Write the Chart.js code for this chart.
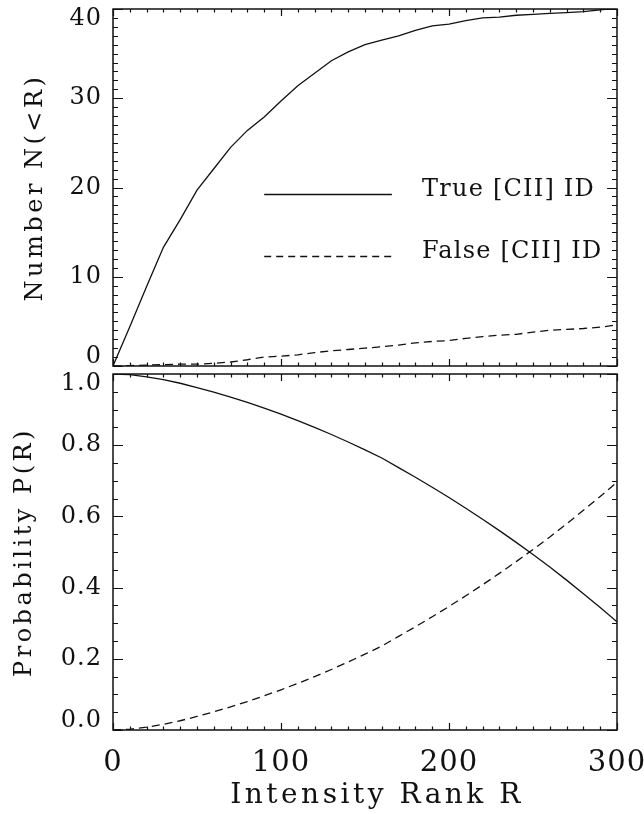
<!DOCTYPE html>
<html>
<head>
<meta charset="utf-8">
<script src="https://cdn.jsdelivr.net/npm/chart.js@4"></script>
<style>
  html, body { margin: 0; padding: 0; background: #fff; }
  #wrap { position: relative; width: 644px; height: 814px; }
  canvas { position: absolute; left: 0; }
  #cTop { top: 0; }
  #cBot { top: 368px; }
</style>
</head>
<body>
<div id="wrap">
  <canvas id="cTop" width="644" height="372"></canvas>
  <canvas id="cBot" width="644" height="446"></canvas>
</div>
<script>
'use strict';

// intensity rank R, sampled every 10
const RANK = [0, 10, 20, 30, 40, 50, 60, 70, 80, 90, 100, 110, 120, 130, 140, 150,
  160, 170, 180, 190, 200, 210, 220, 230, 240, 250, 260, 270, 280, 290, 300];

// top panel: cumulative number N(<R)
const N_TRUE = [0, 4.4, 8.9, 13.3, 16.4, 19.7, 22.1, 24.5, 26.4, 27.9, 29.7, 31.4, 32.8, 34.2, 35.2, 36.0,
  36.5, 37.0, 37.6, 38.1, 38.3, 38.7, 39.0, 39.1, 39.3, 39.4, 39.5, 39.6, 39.7, 39.9, 40.1];
const N_FALSE = [0, 0.05, 0.1, 0.15, 0.2, 0.2, 0.3, 0.45, 0.7, 1.0, 1.1, 1.25, 1.5, 1.7, 1.85, 2.0,
  2.15, 2.35, 2.6, 2.75, 2.85, 3.1, 3.3, 3.45, 3.55, 3.8, 4.0, 4.1, 4.2, 4.35, 4.6];

// bottom panel: probability P(R)
const P_TRUE = [1.0, 0.998, 0.992, 0.984, 0.974, 0.962, 0.949, 0.935, 0.920, 0.904, 0.887, 0.869, 0.850, 0.830, 0.809, 0.787,
  0.764, 0.737, 0.710, 0.682, 0.653, 0.623, 0.592, 0.560, 0.527, 0.493, 0.458, 0.421, 0.383, 0.344, 0.304];
const P_FALSE = [0, 0.002, 0.008, 0.016, 0.026, 0.038, 0.051, 0.065, 0.080, 0.096, 0.113, 0.131, 0.150, 0.170, 0.191, 0.213,
  0.236, 0.263, 0.290, 0.318, 0.347, 0.377, 0.408, 0.440, 0.473, 0.507, 0.542, 0.579, 0.617, 0.656, 0.696];

const LEGEND_LABELS = ['True [CII] ID', 'False [CII] ID'];

const FONT = 'DejaVu Serif';
const INK = '#111';
const DASH = [8, 5];

function pts(ys) {
  return RANK.map((r, i) => ({ x: r, y: ys[i] }));
}

// end labels sit a bit inward, like the original
function endShift(fmt) {
  return function (value, index, ticks) {
    const s = fmt(value);
    if (index === 0) return [s, ''];
    if (index === ticks.length - 1) return ['', s];
    return s;
  };
}

// wide-set lettering: titles are drawn before the datasets, tick labels after (ticks.z = 1).
// titleShift nudges the title layer sideways (the x title sits right of centre in the original)
const spacingPlugin = {
  id: 'spacing',
  beforeDraw(chart, args, o) {
    const ctx = chart.ctx;
    ctx.save();
    ctx.translate(o.titleShift || 0, 0);
    ctx.letterSpacing = '3.5px';
  },
  beforeDatasetsDraw(chart) {
    chart.ctx.restore();
  },
  afterDatasetsDraw(chart) {
    chart.ctx.letterSpacing = '1px';
  }
};

// frame plus inward major/minor ticks on all four sides
const framePlugin = {
  id: 'frame',
  afterDraw(chart, args, o) {
    const { ctx, chartArea: a, scales: { x, y } } = chart;
    ctx.save();
    ctx.letterSpacing = '0px';
    ctx.strokeStyle = INK;
    ctx.lineWidth = 1.5;
    ctx.strokeRect(a.left, a.top, a.right - a.left, a.bottom - a.top);
    ctx.lineWidth = 1.2;
    ctx.beginPath();
    const xMaj = 7, yMaj = 10;
    for (let v = x.min; v <= x.max + 1e-9; v += o.xMinor) {
      const px = Math.round(x.getPixelForValue(v)) + 0.5;
      const major = Math.abs(v / o.xMajor - Math.round(v / o.xMajor)) < 1e-6;
      const len = major ? xMaj : xMaj / 2;
      ctx.moveTo(px, a.bottom); ctx.lineTo(px, a.bottom - len);
      ctx.moveTo(px, a.top); ctx.lineTo(px, a.top + len);
    }
    for (let v = y.min; v <= y.max + 1e-9; v += o.yMinor) {
      const py = Math.round(y.getPixelForValue(v)) + 0.5;
      const major = Math.abs(v / o.yMajor - Math.round(v / o.yMajor)) < 1e-6;
      const len = major ? yMaj : yMaj / 2;
      ctx.moveTo(a.left, py); ctx.lineTo(a.left + len, py);
      ctx.moveTo(a.right, py); ctx.lineTo(a.right - len, py);
    }
    ctx.stroke();

    if (o.legend) {
      const L = o.legend;
      ctx.font = '24px "' + FONT + '"';
      ctx.letterSpacing = '1.2px';
      ctx.fillStyle = INK;
      ctx.textBaseline = 'alphabetic';
      ctx.textAlign = 'left';
      LEGEND_LABELS.forEach((lab, i) => {
        const py = Math.round(y.getPixelForValue(L.y[i])) + 0.5;
        ctx.beginPath();
        ctx.lineWidth = 1.3;
        ctx.setLineDash(i === 0 ? [] : [7, 5]);
        ctx.moveTo(x.getPixelForValue(L.x0), py);
        ctx.lineTo(x.getPixelForValue(L.x1), py);
        ctx.stroke();
        ctx.setLineDash([]);
        ctx.fillText(lab, x.getPixelForValue(L.xt), py + 1);
      });
    }
    ctx.restore();
    ctx.letterSpacing = '0px';
  }
};

function noPad(s) {
  s.paddingTop = 0; s.paddingBottom = 0; s.paddingLeft = 0; s.paddingRight = 0;
}

function yAxis(min, max, step, title, titlePad, fmt) {
  return {
    type: 'linear', position: 'left', min, max,
    grid: { display: false, drawTicks: false },
    border: { display: false },
    ticks: {
      stepSize: step, padding: 11, color: INK, z: 1,
      font: { family: FONT, size: 24, lineHeight: 0.8 },
      callback: endShift(fmt)
    },
    title: {
      display: true, text: title, color: INK,
      font: { family: FONT, size: 24, lineHeight: 1.2 },
      padding: { top: titlePad, bottom: 0 }
    },
    afterFit(s) { s.width = 113; noPad(s); }
  };
}

function lineSet(ys, dashed) {
  return {
    data: pts(ys),
    borderColor: INK,
    borderWidth: 1.3,
    borderDash: dashed ? DASH : [],
    pointRadius: 0,
    tension: 0,
    fill: false
  };
}

const common = {
  responsive: false,
  animation: false,
  events: [],
  plugins: { legend: { display: false }, tooltip: { enabled: false } }
};

new Chart(document.getElementById('cTop'), {
  type: 'line',
  data: { datasets: [lineSet(N_TRUE, false), lineSet(N_FALSE, true)] },
  options: Object.assign({}, common, {
    layout: { padding: { left: 0, right: 27, top: 9, bottom: 6 } },
    scales: {
      x: { type: 'linear', min: 0, max: 300, display: false },
      y: yAxis(0, 40, 10, 'Number N(<R)', 21, (v) => String(v))
    },
    plugins: Object.assign({}, common.plugins, {
      spacing: { titleShift: 0 },
      frame: { xMajor: 100, xMinor: 10, yMajor: 10, yMinor: 1,
        legend: { x0: 90, x1: 166, xt: 184, y: [19.3, 12.3] } }
    })
  }),
  plugins: [spacingPlugin, framePlugin]
});

new Chart(document.getElementById('cBot'), {
  type: 'line',
  data: { datasets: [lineSet(P_TRUE, false), lineSet(P_FALSE, true)] },
  options: Object.assign({}, common, {
    layout: { padding: { left: 0, right: 27, top: 6, bottom: 0 } },
    scales: {
      x: {
        type: 'linear', position: 'bottom', min: 0, max: 300,
        grid: { display: false, drawTicks: false },
        border: { display: false },
        ticks: { stepSize: 100, padding: 16, color: INK, maxRotation: 0, z: 1, autoSkip: false,
          font: { family: FONT, size: 29, lineHeight: 1.2 } },
        title: { display: true, text: 'Intensity Rank R', color: INK,
          font: { family: FONT, size: 28, lineHeight: 1.2 },
          padding: { top: 0, bottom: 1 } },
        afterFit(s) { s.height = 84; noPad(s); }
      },
      y: yAxis(0, 1, 0.2, 'Probability P(R)', -2, (v) => v.toFixed(1))
    },
    plugins: Object.assign({}, common.plugins, {
      spacing: { titleShift: 12 },
      frame: { xMajor: 100, xMinor: 10, yMajor: 0.2, yMinor: 0.05 }
    })
  }),
  plugins: [spacingPlugin, framePlugin]
});
</script>
</body>
</html>
